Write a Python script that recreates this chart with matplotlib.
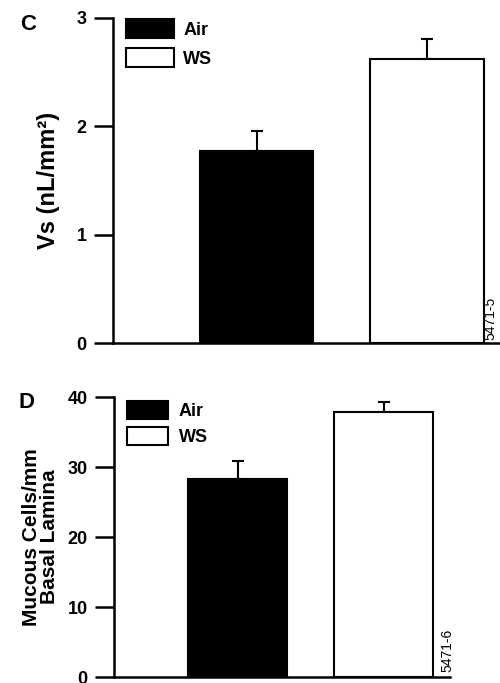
import matplotlib.pyplot as plt
from matplotlib.patches import Patch

plt.rcParams['font.family'] = 'Liberation Sans'
plt.rcParams['font.weight'] = 'bold'

groups = ['Air', 'WS']
colors = ['black', 'white']

# panel C: Vs
vs_mean = [1.77, 2.62]
vs_err = [0.19, 0.19]

# panel D: mucous cells
mc_mean = [28.3, 37.9]
mc_err = [2.6, 1.4]

W, H = 500, 683
fig = plt.figure(figsize=(W / 100, H / 100), dpi=100)


def make_axes(left, bottom, right, top):
    # pixel box -> figure fraction
    return fig.add_axes([left / W, 1 - bottom / H, (right - left) / W, (bottom - top) / H])


def draw_panel(ax, means, errs, ymax, yticks, width, xlim, leg_kw):
    x = [0, 1]
    ax.bar(x, means, width=width, color=colors, edgecolor='black', linewidth=1.5, zorder=2)
    ax.errorbar(x, means, yerr=[[0, 0], errs], fmt='none', ecolor='black',
                elinewidth=1.5, capsize=4.5, capthick=1.5, zorder=1)
    ax.set_ylim(0, ymax)
    ax.set_xlim(*xlim)
    ax.set_yticks(yticks)
    ax.set_xticks([])
    ax.spines['top'].set_visible(False)
    ax.spines['right'].set_visible(False)
    ax.spines['left'].set_linewidth(1.8)
    ax.spines['bottom'].set_linewidth(1.8)
    ax.tick_params(axis='y', direction='out', length=14, width=1.8, labelsize=13, pad=5)
    handles = [Patch(facecolor=c, edgecolor='black', linewidth=1.5) for c in colors]
    ax.legend(handles, groups, frameon=False, prop={'weight': 'bold', 'size': 13},
              **leg_kw)


# C
axC = make_axes(113, 343, 500, 18)
draw_panel(axC, vs_mean, vs_err, 3, [0, 1, 2, 3], 0.67, (-0.844, 1.432),
           dict(loc='upper left', bbox_to_anchor=(0.0, 1.035), handlelength=2.7,
                handleheight=1.25, labelspacing=0.5, handletextpad=0.5, borderaxespad=0.3))
axC.set_ylabel('Vs (nL/mm²)', fontsize=17, fontweight='bold', labelpad=12)
fig.text(20 / W, 1 - 25 / H, 'C', fontsize=16, fontweight='bold', va='center', ha='left')
fig.text(490 / W, 1 - 340 / H, '5471-5', fontsize=10, fontweight='normal',
         rotation=90, ha='center', va='bottom')

# D
axD = make_axes(114, 677, 450, 397)
draw_panel(axD, mc_mean, mc_err, 40, [0, 10, 20, 30, 40], 0.68, (-0.846, 1.455),
           dict(loc='upper left', bbox_to_anchor=(0.0, 1.03), handlelength=2.3,
                handleheight=1.1, labelspacing=0.4, handletextpad=0.6, borderaxespad=0.3))
axD.set_ylabel('Mucous Cells/mm\nBasal Lamina', fontsize=15, fontweight='bold',
               labelpad=6, linespacing=0.95)
fig.text(18 / W, 1 - 402 / H, 'D', fontsize=16, fontweight='bold', va='center', ha='left')
fig.text(447 / W, 1 - 672 / H, '5471-6', fontsize=10, fontweight='normal',
         rotation=90, ha='center', va='bottom')

fig.savefig('out.png', dpi=100)
